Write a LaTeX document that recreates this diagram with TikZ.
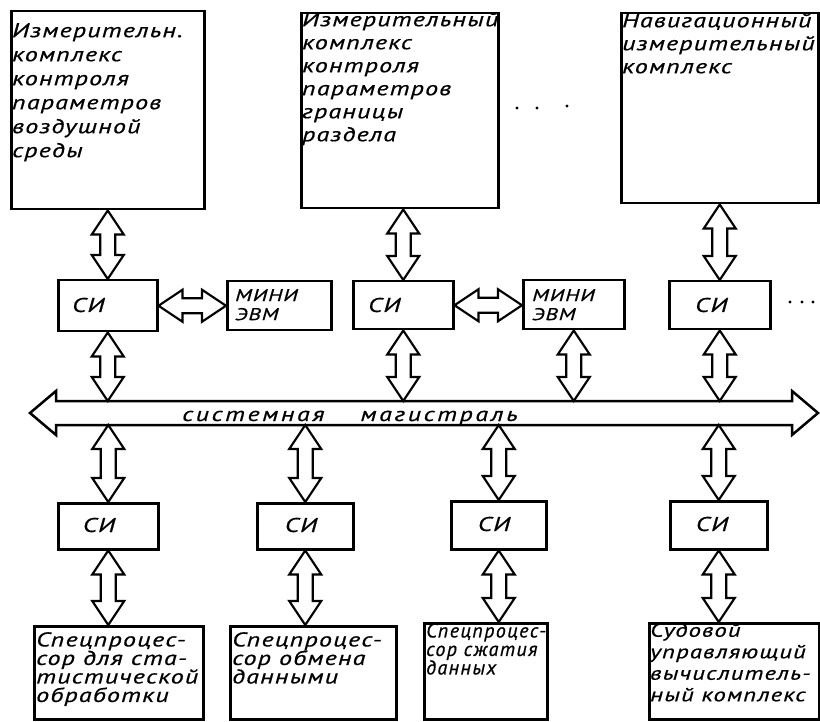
\documentclass[tikz,border=0pt]{standalone}
\usepackage{fontspec}
\newfontfamily\gost{PT Sans Italic}[FakeStretch=1.3,LetterSpace=6,FakeBold=0.6]
\newfontfamily\gostwide{PT Sans Italic}[FakeStretch=1.3,LetterSpace=13,FakeBold=0.6]
\newfontfamily\gostnarrow{PT Sans Italic}[FakeStretch=1.0,LetterSpace=7,FakeBold=0.6]
\usetikzlibrary{calc}
\tikzset{
  box/.style={draw, line width=2.5pt, inner sep=0pt, anchor=north west},
  txt/.style={inner sep=0pt, anchor=north west, align=left, font=\gost\fontsize{20}{24}\selectfont},
  txtb/.style={txt, font=\gost\fontsize{20}{18.5}\selectfont},
  txtm/.style={txt, font=\gost\fontsize{17}{19}\selectfont},
  dbl/.style={draw, line width=2.2pt, line join=miter},
  dotn/.style={circle, fill, inner sep=0pt, minimum size=3.4pt}
}
\newcommand\vdbl[3]{\path[dbl] let \p1=(#1),\p2=(#2),\p3=(#3) in
  (\x1,\y2) -- (\x1+16pt,\y2-24pt) -- (\x1+7.5pt,\y2-24pt) -- (\x1+7.5pt,\y3+24pt) -- (\x1+16pt,\y3+24pt) -- (\x1,\y3)
  -- (\x1-16pt,\y3+24pt) -- (\x1-7.5pt,\y3+24pt) -- (\x1-7.5pt,\y2-24pt) -- (\x1-16pt,\y2-24pt) -- cycle;}
\newcommand\hdbl[3]{\path[dbl] let \p1=(#1),\p2=(#2),\p3=(#3) in
  (\x1,\y3) -- (\x1+24pt,\y3+16pt) -- (\x1+24pt,\y3+7.5pt) -- (\x2-24pt,\y3+7.5pt) -- (\x2-24pt,\y3+16pt) -- (\x2,\y3)
  -- (\x2-24pt,\y3-16pt) -- (\x2-24pt,\y3-7.5pt) -- (\x1+24pt,\y3-7.5pt) -- (\x1+24pt,\y3-16pt) -- cycle;}
\begin{document}
\begin{tikzpicture}[x=1pt,y=-1pt]
\useasboundingbox (0,0) rectangle (820,722);
% top boxes
\node[box, minimum width=193pt, minimum height=198pt] (b1) at (10,10) {};
\node[box, minimum width=197pt, minimum height=195pt] (b2) at (300,12) {};
\node[box, minimum width=197pt, minimum height=190pt] (b3) at (620,12) {};
\node[txt] (t1) at (12,23) {Измерительн.\\комплекс\\контроля\\параметров\\воздушной\\среды};
\node[txt, font=\gost\fontsize{20}{23}\selectfont] (t2) at (302,12) {Измерительный\\комплекс\\контроля\\параметров\\границы\\раздела};
\node[txt, font=\gost\fontsize{20}{23}\selectfont] (t3) at (622,13) {Навигационный\\измерительный\\комплекс};
% middle row
\node[box, minimum width=99pt, minimum height=51pt] (s1) at (57,279) {};
\node[box, minimum width=104pt, minimum height=49pt] (m1) at (226,280) {};
\node[box, minimum width=100pt, minimum height=48pt] (s2) at (352,280) {};
\node[box, minimum width=101pt, minimum height=49pt] (m2) at (522,279) {};
\node[box, minimum width=101pt, minimum height=48pt] (s3) at (668,280) {};
\node[txt, anchor=west] (ts1) at (72,305) {СИ};
\node[txtm] (tm1) at (235,289) {МИНИ\\ЭВМ};
\node[txt, anchor=west] (ts2) at (368,305) {СИ};
\node[txtm] (tm2) at (532,289) {МИНИ\\ЭВМ};
\node[txt, anchor=west] (ts3) at (695,305) {СИ};
% bus
\coordinate (busL) at (30,413);
\coordinate (busR) at (818,413);
\coordinate (busT) at (0,401);
\coordinate (busB) at (0,425);
\path[dbl, line width=2.5pt] let \p1=(busL),\p2=(busR) in
  (\x1,\y1) -- (\x1+26pt,\y1+22pt) -- (\x1+26pt,\y1+12pt) -- (\x2-26pt,\y2+12pt) -- (\x2-26pt,\y2+22pt) -- (\x2,\y2)
  -- (\x2-26pt,\y2-22pt) -- (\x2-26pt,\y2-12pt) -- (\x1+26pt,\y1-12pt) -- (\x1+26pt,\y1-22pt) -- cycle;
\node[txt, anchor=base west, font=\gostwide\fontsize{20}{24}\selectfont] (bus) at (182,421) {системная\hspace{36pt}магистраль};
% bottom row
\node[box, minimum width=100pt, minimum height=46pt] (s4) at (57,502) {};
\node[box, minimum width=96pt, minimum height=46pt] (s5) at (256,502) {};
\node[box, minimum width=95pt, minimum height=48pt] (s6) at (450,500) {};
\node[box, minimum width=97pt, minimum height=48pt] (s7) at (669,500) {};
\node[txt, anchor=center] (ts4) at (99,525) {СИ};
\node[txt, anchor=center] (ts5) at (301,525) {СИ};
\node[txt, anchor=center] (ts6) at (494,524) {СИ};
\node[txt, anchor=center] (ts7) at (712,524) {СИ};
\node[box, minimum width=169pt, minimum height=93pt] (p1) at (33,625) {};
\node[box, minimum width=166pt, minimum height=93pt] (p2) at (229,625) {};
\node[box, minimum width=123pt, minimum height=96pt] (p3) at (423,622) {};
\node[box, minimum width=170pt, minimum height=96pt] (p4) at (648,622) {};
\node[txtb] (tp1) at (36,632) {Спецпроцес-\\сор для ста-\\тистической\\обработки};
\node[txtb] (tp2) at (232,632) {Спецпроцес-\\сор обмена\\данными};
\node[txtb, font=\gostnarrow\fontsize{20}{18.5}\selectfont] (tp3) at (426,623) {Спецпроцес-\\сор сжатия\\данных};
\node[txtb, font=\gost\fontsize{19}{21.5}\selectfont] (tp4) at (650,623) {Судовой\\управляющий\\вычислитель-\\ный комплекс};
% connectors
\vdbl{s1.north}{b1.south}{s1.north}
\vdbl{s2.north}{b2.south}{s2.north}
\vdbl{s3.north}{b3.south}{s3.north}
\hdbl{s1.east}{m1.west}{s1.east}
\hdbl{s2.east}{m2.west}{s2.east}
\vdbl{s1.south}{s1.south}{busT}
\vdbl{s2.south}{s2.south}{busT}
\vdbl{m2.south}{m2.south}{busT}
\vdbl{s3.south}{s3.south}{busT}
\vdbl{s4.north}{busB}{s4.north}
\vdbl{s5.north}{busB}{s5.north}
\vdbl{s6.north}{busB}{s6.north}
\vdbl{s7.north}{busB}{s7.north}
\vdbl{s4.south}{s4.south}{p1.north}
\vdbl{s5.south}{s5.south}{p2.north}
\vdbl{s6.south}{s6.south}{p3.north}
\vdbl{s7.south}{s7.south}{p4.north}
% dots
\node[dotn] (d1) at (517,108) {};
\node[dotn] (d2) at (537,108) {};
\node[dotn] (d3) at (567,106) {};
\node[dotn] (d4) at (790,302) {};
\node[dotn] (d5) at (802,302) {};
\node[dotn] (d6) at (813,302) {};
\end{tikzpicture}
\end{document}
